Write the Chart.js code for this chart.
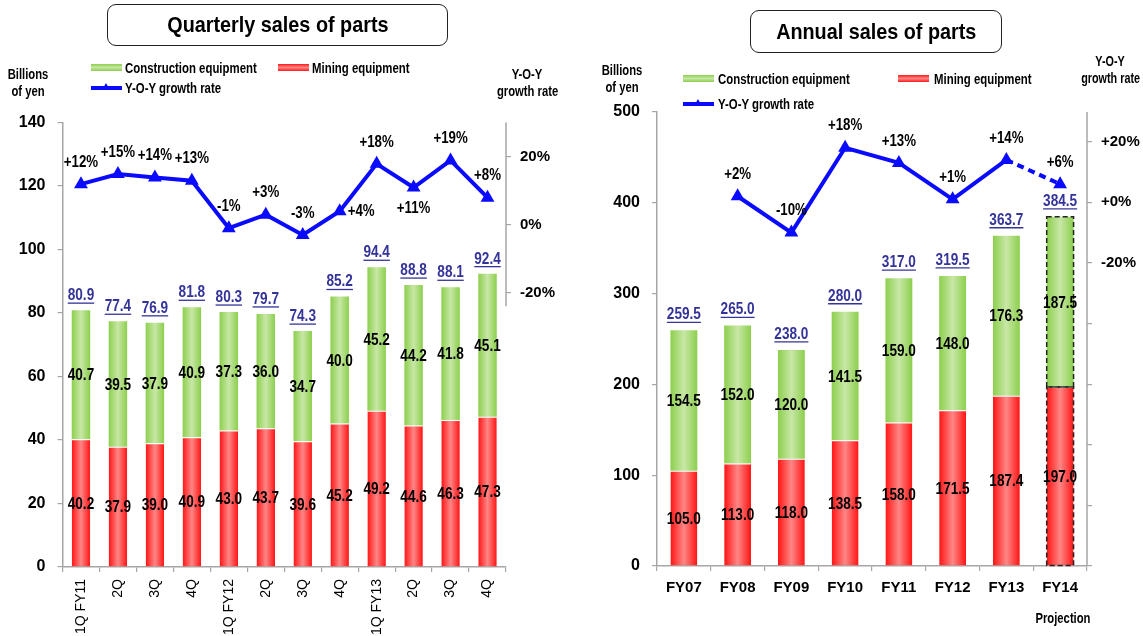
<!DOCTYPE html>
<html>
<head>
<meta charset="utf-8">
<script src="https://cdn.jsdelivr.net/npm/chart.js@4.4.1/dist/chart.umd.min.js"></script>
<style>
  body { margin: 0; width: 1143px; height: 636px; position: relative; background: #fff; overflow: hidden;
         font-family: "Liberation Sans", Arial, sans-serif; font-weight: bold; color: #000; }
  .box { position: absolute; }
  .title { position: absolute; border: 1.5px solid #222; border-radius: 9px; text-align: center; font-size: 22px; box-sizing: border-box; }
  .title span { display: inline-block; transform: scaleX(0.9); }
  .note { position: absolute; font-size: 15px; line-height: 17px; text-align: center; white-space: nowrap; transform: scaleX(0.75); }
  .swatch { position: absolute; width: 31px; height: 7px; }
  .green { background: linear-gradient(#8ccf4d, #c6e6a3, #8ccf4d); }
  .red { background: linear-gradient(#ff1a1a, #ff8585, #ff1a1a); }
  .lineKey { position: absolute; width: 31px; height: 4px; background: #0a0aff; }
  .lineKey::after { content: ""; position: absolute; left: 11px; top: -3px; border-left: 4px solid transparent;
                    border-right: 4px solid transparent; border-bottom: 7px solid #0a0aff; }
  .keyText { position: absolute; font-size: 15px; line-height: 17px; white-space: nowrap; transform: scaleX(0.76); transform-origin: left center; }
</style>
</head>
<body>
<div class="box" style="left:0;top:0;width:571px;height:636px;"><canvas id="quarterChart"></canvas></div>
<div class="box" style="left:571px;top:0;width:572px;height:636px;"><canvas id="yearChart"></canvas></div>

<!-- quarterly panel texts -->
<div class="title" style="left:107px;top:4px;width:341px;height:42px;line-height:40px;"><span>Quarterly sales of parts</span></div>
<div class="note" style="left:0;top:65px;width:56px;">Billions<br>of yen</div>
<div class="note" style="left:487px;top:65px;width:80px;">Y-O-Y<br>growth rate</div>
<div class="swatch green" style="left:91px;top:64px;"></div>
<div class="keyText" style="left:125px;top:59px;">Construction equipment</div>
<div class="swatch red" style="left:278px;top:64px;"></div>
<div class="keyText" style="left:312px;top:59px;">Mining equipment</div>
<div class="lineKey" style="left:91px;top:86px;"></div>
<div class="keyText" style="left:125px;top:79px;">Y-O-Y growth rate</div>

<!-- annual panel texts -->
<div class="title" style="left:750px;top:10px;width:252px;height:43px;line-height:41px;"><span>Annual sales of parts</span></div>
<div class="note" style="left:594px;top:61px;width:56px;">Billions<br>of yen</div>
<div class="note" style="left:1070px;top:52px;width:80px;transform:scaleX(0.72);">Y-O-Y<br>growth rate</div>
<div class="swatch green" style="left:683px;top:75px;"></div>
<div class="keyText" style="left:718px;top:70px;">Construction equipment</div>
<div class="swatch red" style="left:898px;top:75px;"></div>
<div class="keyText" style="left:934px;top:70px;">Mining equipment</div>
<div class="lineKey" style="left:683px;top:102px;"></div>
<div class="keyText" style="left:718px;top:95px;">Y-O-Y growth rate</div>
<div class="note" style="left:1025px;top:609px;width:76px;">Projection</div>

<script>
const FONT = '"Liberation Sans", Arial, sans-serif';
const AXIS = '#a6a6a6';
const LINE_BLUE = '#0a0aff';
const TOTAL_BLUE = '#33339a';

// quarterly data (billions of yen, growth in %)
const quarterLabels = ['1Q FY11', '2Q', '3Q', '4Q', '1Q FY12', '2Q', '3Q', '4Q', '1Q FY13', '2Q', '3Q', '4Q'];
const quarterMining = [40.2, 37.9, 39.0, 40.9, 43.0, 43.7, 39.6, 45.2, 49.2, 44.6, 46.3, 47.3];
const quarterConstruction = [40.7, 39.5, 37.9, 40.9, 37.3, 36.0, 34.7, 40.0, 45.2, 44.2, 41.8, 45.1];
const quarterGrowth = [12, 15, 14, 13, -1, 3, -3, 4, 18, 11, 19, 8];
const quarterGrowthSide = ['above', 'above', 'above', 'above', 'above', 'above', 'above', 'right', 'above', 'below', 'above', 'above'];
const quarterRateTicks = [-20, 0, 20];

// annual data, FY14 is a projection
const yearLabels = ['FY07', 'FY08', 'FY09', 'FY10', 'FY11', 'FY12', 'FY13', 'FY14'];
const yearMining = [105.0, 113.0, 118.0, 138.5, 158.0, 171.5, 187.4, 197.0];
const yearConstruction = [154.5, 152.0, 120.0, 141.5, 159.0, 148.0, 176.3, 187.5];
const yearGrowth = [null, 2, -10, 18, 13, 1, 14, 6];
const yearGrowthSide = ['above', 'above', 'above', 'above', 'above', 'above', 'above', 'above'];
const yearRateTicks = [-120, -100, -80, -60, -40, -20, 0, 20];

Chart.defaults.font.family = FONT;
Chart.defaults.animation = false;

// horizontal shading across each bar: darker edges, light centre
function barFill(edge, mid) {
  return (ctx) => {
    const chart = ctx.chart;
    const x = chart.scales.x;
    if (!x || ctx.dataIndex === undefined || !isFinite(x.width) || x.width <= 0) return edge;
    const cx = x.getPixelForValue(ctx.dataIndex);
    const half = x.width / chart.data.labels.length * 0.25;
    const g = chart.ctx.createLinearGradient(cx - half, 0, cx + half, 0);
    g.addColorStop(0, edge);
    g.addColorStop(0.5, mid);
    g.addColorStop(1, edge);
    return g;
  };
}

function pct(v) {
  return (v > 0 ? '+' : '') + v + '%';
}

// condensed text: squeeze glyphs horizontally around the anchor
function narrowText(ctx, text, x, y, squeeze) {
  ctx.save();
  ctx.translate(x, y);
  ctx.scale(squeeze, 1);
  ctx.fillText(text, 0, 0);
  ctx.restore();
}

const labelPlugin = {
  id: 'barLabels',
  afterDatasetsDraw(chart, args, opts) {
    const ctx = chart.ctx;
    const mining = chart.data.datasets[0].data;
    const constr = chart.data.datasets[1].data;
    ctx.save();

    // dashed outline for projected year
    if (opts.dashedIndex !== undefined) {
      ctx.setLineDash([5, 3]);
      ctx.strokeStyle = '#222';
      ctx.lineWidth = 1.5;
      [0, 1].forEach(di => {
        const bar = chart.getDatasetMeta(di).data[opts.dashedIndex];
        ctx.strokeRect(bar.x - bar.width / 2, bar.y, bar.width, bar.base - bar.y);
      });
      ctx.setLineDash([]);
    }

    // segment values
    ctx.font = 'bold 17px ' + FONT;
    ctx.fillStyle = '#000';
    ctx.textAlign = 'center';
    ctx.textBaseline = 'middle';
    [mining, constr].forEach((vals, di) => {
      chart.getDatasetMeta(di).data.forEach((bar, i) => {
        narrowText(ctx, vals[i].toFixed(1), bar.x, (bar.y + bar.base) / 2 + 1, 0.8);
      });
    });

    // underlined totals above the bars
    ctx.fillStyle = TOTAL_BLUE;
    ctx.strokeStyle = TOTAL_BLUE;
    ctx.lineWidth = 1.3;
    ctx.textBaseline = 'alphabetic';
    chart.getDatasetMeta(1).data.forEach((bar, i) => {
      const text = (mining[i] + constr[i]).toFixed(1);
      const y = bar.y - opts.totalGap;
      const w = ctx.measureText(text).width * 0.8;
      narrowText(ctx, text, bar.x, y, 0.8);
      ctx.beginPath();
      ctx.moveTo(bar.x - w / 2, y + 3);
      ctx.lineTo(bar.x + w / 2, y + 3);
      ctx.stroke();
    });

    // growth rate labels
    const rates = chart.data.datasets[2].data;
    ctx.fillStyle = '#000';
    ctx.textBaseline = 'middle';
    chart.getDatasetMeta(2).data.forEach((pt, i) => {
      if (rates[i] === null) return;
      const side = opts.sides[i];
      if (side === 'right') {
        ctx.textAlign = 'left';
        narrowText(ctx, pct(rates[i]), pt.x + 8, pt.y, 0.78);
      } else {
        ctx.textAlign = 'center';
        narrowText(ctx, pct(rates[i]), pt.x, side === 'below' ? pt.y + 21 : pt.y - 22, 0.78);
      }
    });

    // right axis line, drawn down to the requested value
    const y1 = chart.scales.y1;
    ctx.strokeStyle = AXIS;
    ctx.lineWidth = 1.5;
    ctx.beginPath();
    ctx.moveTo(y1.left, chart.chartArea.top);
    ctx.lineTo(y1.left, y1.getPixelForValue(opts.rightAxisTo));
    ctx.stroke();
    ctx.restore();
  }
};

function buildChart(canvas, s) {
  const tickFont = { family: FONT, size: 16, weight: 'bold' };
  const rateFont = { family: FONT, size: 15, weight: 'bold' };
  return new Chart(canvas, {
    type: 'bar',
    data: {
      labels: s.labels,
      datasets: [
        {
          label: 'Mining equipment',
          data: s.mining,
          backgroundColor: barFill('#ff1414', '#ff8686'),
          borderColor: '#ffffff',
          borderWidth: { top: 1, left: 0, right: 0, bottom: 0 },
          borderSkipped: false,
          barPercentage: 0.5,
          categoryPercentage: 1,
          order: 1
        },
        {
          label: 'Construction equipment',
          data: s.construction,
          backgroundColor: barFill('#8ccf4d', '#c8e7a6'),
          barPercentage: 0.5,
          categoryPercentage: 1,
          order: 1
        },
        {
          type: 'line',
          label: 'Y-O-Y growth rate',
          data: s.growth,
          yAxisID: 'y1',
          borderColor: LINE_BLUE,
          backgroundColor: LINE_BLUE,
          borderWidth: 4,
          pointStyle: 'triangle',
          pointRadius: 8,
          pointBorderWidth: 0,
          spanGaps: false,
          segment: {
            borderDash: (ctx) => (ctx.p1DataIndex === s.dashedIndex ? [7, 5] : undefined)
          },
          order: 0
        }
      ]
    },
    options: {
      responsive: true,
      maintainAspectRatio: false,
      layout: { padding: { top: s.top, left: 0, right: 0, bottom: 0 } },
      plugins: {
        legend: { display: false },
        tooltip: { enabled: false },
        barLabels: {
          sides: s.sides,
          totalGap: s.totalGap,
          dashedIndex: s.dashedIndex,
          rightAxisTo: s.rightAxisTo
        }
      },
      scales: {
        x: {
          stacked: true,
          grid: { offset: true, drawOnChartArea: false, tickLength: 5, color: AXIS, lineWidth: 1.2 },
          border: { color: AXIS, width: 1.5 },
          ticks: {
            color: '#000',
            font: s.xFont,
            autoSkip: false,
            maxRotation: s.xRotation,
            minRotation: s.xRotation,
            padding: s.xPadding
          },
          afterFit: (scale) => { scale.height = s.xHeight; }
        },
        y: {
          stacked: true,
          min: 0,
          max: s.yMax,
          ticks: { stepSize: s.yStep, color: '#000', font: tickFont, padding: 12 },
          grid: { drawOnChartArea: false, tickLength: 5, color: AXIS, lineWidth: 1.2 },
          border: { color: AXIS, width: 1.5 },
          afterFit: (scale) => { scale.width = s.yWidth; }
        },
        y1: {
          position: 'right',
          min: s.rateMin,
          max: s.rateMax,
          afterBuildTicks: (scale) => { scale.ticks = s.rateTicks.map(v => ({ value: v })); },
          ticks: { color: '#000', font: rateFont, padding: s.ratePadding, callback: s.rateLabel },
          grid: { drawOnChartArea: false, tickLength: 5, color: AXIS, lineWidth: 1.2 },
          border: { display: false },
          afterFit: (scale) => { scale.width = s.rateWidth; }
        }
      }
    },
    plugins: [labelPlugin]
  });
}

buildChart(document.getElementById('quarterChart'), {
  labels: quarterLabels,
  mining: quarterMining,
  construction: quarterConstruction,
  growth: quarterGrowth,
  sides: quarterGrowthSide,
  dashedIndex: undefined,
  top: 122.5,
  yMax: 140,
  yStep: 20,
  yWidth: 62.5,
  xHeight: 69,
  xRotation: 90,
  xPadding: 7,
  xFont: { family: FONT, size: 14, weight: 'normal' },
  rateMin: -101,
  rateMax: 30.2,
  rateTicks: quarterRateTicks,
  rateLabel: (v) => v + '%',
  ratePadding: 9,
  rateWidth: 65,
  rightAxisTo: -24,
  totalGap: 10
});

buildChart(document.getElementById('yearChart'), {
  labels: yearLabels,
  mining: yearMining,
  construction: yearConstruction,
  growth: yearGrowth,
  sides: yearGrowthSide,
  dashedIndex: 7,
  top: 112,
  yMax: 500,
  yStep: 100,
  yWidth: 86,
  xHeight: 70,
  xRotation: 0,
  xPadding: 8,
  xFont: { family: FONT, size: 15, weight: 'bold' },
  rateMin: -120,
  rateMax: 29.8,
  rateTicks: yearRateTicks,
  rateLabel: (v) => (v === 20 ? '+20%' : v === 0 ? '+0%' : v === -20 ? '-20%' : ''),
  ratePadding: 9,
  rateWidth: 56,
  rightAxisTo: -120,
  totalGap: 11
});
</script>
</body>
</html>
